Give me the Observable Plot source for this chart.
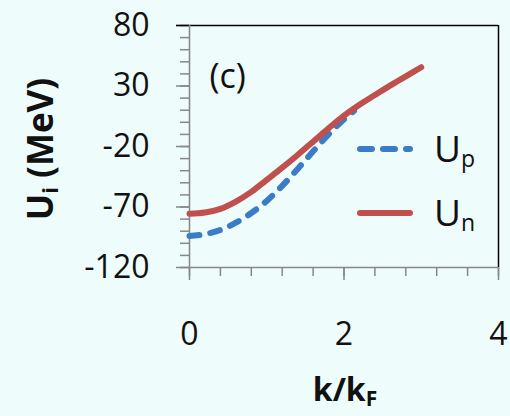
<!DOCTYPE html>
<html>
<head>
<meta charset="utf-8">
<script src="https://cdn.jsdelivr.net/npm/d3@7"></script>
<script src="https://cdn.jsdelivr.net/npm/@observablehq/plot@0.6"></script>
<style>
  html, body { margin: 0; padding: 0; background: #eefcfc; }
  #chart { width: 510px; height: 416px; }
  svg { display: block; }
</style>
</head>
<body>
<div id="chart"></div>
<script>
// Momentum dependence of the single-particle potentials, k in units of k_F
const kProton = [0, 0.2, 0.4, 0.6, 0.8, 1.0, 1.2, 1.4, 1.6, 1.8, 2.0, 2.13];
const uProton = [-94, -92.5, -89, -83, -75, -65, -52.5, -38.5, -24, -10, 2.5, 9.5];

const kNeutron = [0, 0.2, 0.4, 0.6, 0.8, 1.0, 1.2, 1.4, 1.6, 1.8, 2.0, 2.2, 2.4, 2.6, 2.8, 3.0];
const uNeutron = [-75.5, -74.5, -71.5, -65.5, -57.5, -47.5, -37.5, -27, -16, -5, 5.5, 14.5, 22.5, 30.5, 38, 45.5];

const yMajorTicks = [-120, -70, -20, 30, 80];
const yMinorTicks = d3.range(-120, 81, 10);
const xTicks = d3.range(0, 4.01, 0.4).map(v => +v.toFixed(1));
const xLabelTicks = [0, 2, 4];
const xDomain = [0, 4];
const yDomain = [-120, 80];

const seriesNames = ["U_p", "U_n"];
const panelTag = "(c)";
const xTitle = "k/k_F";
const yTitle = "U_i (MeV)";

const protonRows = kProton.map((k, i) => ({k, u: uProton[i]}));
const neutronRows = kNeutron.map((k, i) => ({k, u: uNeutron[i]}));

const blue = "#3c7cc6";
const red = "#c0504d";
const axisGray = "#878787";
const font = "Open Sans";
const plainNumber = d => `${d}`;

const chart = Plot.plot({
  width: 510,
  height: 416,
  marginLeft: 189,
  marginRight: 12,
  marginTop: 25,
  marginBottom: 149,
  style: {background: "transparent", fontFamily: font, color: "#111"},
  x: {domain: xDomain},
  y: {domain: yDomain},
  marks: [
    // plot-area border: black on top and right, grey axis lines on left and bottom
    Plot.ruleY([yDomain[1]], {stroke: "black", strokeWidth: 1.5}),
    Plot.ruleX([xDomain[1]], {stroke: "black", strokeWidth: 1.5}),
    Plot.axisY({ticks: yMinorTicks, tickSize: 9, tickFormat: () => "", stroke: axisGray, strokeWidth: 1.5, label: null}),
    Plot.axisY({ticks: yMajorTicks, tickSize: 13, tickPadding: 27, tickFormat: plainNumber, fontSize: 32, stroke: axisGray, strokeWidth: 1.5, label: null, fill: "#111"}),
    Plot.axisY({ticks: [yDomain[1]], tickSize: 13, tickFormat: () => "", stroke: "black", strokeWidth: 1.5, label: null}),
    Plot.axisX({ticks: xTicks, tickSize: 9, tickFormat: () => "", stroke: axisGray, strokeWidth: 1.5, label: null}),
    Plot.axisX({ticks: xLabelTicks, tickSize: 13, tickPadding: 42, tickFormat: plainNumber, fontSize: 32, stroke: axisGray, strokeWidth: 1.5, label: null, fill: "#111"}),
    Plot.ruleX([xDomain[0]], {stroke: axisGray, strokeWidth: 1.5}),
    Plot.ruleY([yDomain[0]], {stroke: axisGray, strokeWidth: 1.5}),
    Plot.line(protonRows, {x: "k", y: "u", stroke: blue, strokeWidth: 6, strokeDasharray: "10,11", strokeLinecap: "round", curve: "catmull-rom"}),
    Plot.line(neutronRows, {x: "k", y: "u", stroke: red, strokeWidth: 6, strokeLinecap: "round", curve: "catmull-rom"}),
    Plot.text([panelTag], {frameAnchor: "top-left", dx: 20, dy: 38, fontSize: 34, textAnchor: "start", fill: "#111"})
  ]
});

document.getElementById("chart").appendChild(chart);

// Text with a subscript: "base_sub rest"
function subText(sel, str, subSize, shift) {
  const m = str.match(/^([^_]*)_(\S)(.*)$/);
  if (!m) { sel.text(str); return sel; }
  sel.append("tspan").text(m[1]);
  sel.append("tspan").attr("font-size", subSize).attr("dy", shift).text(m[2]);
  if (m[3]) sel.append("tspan").attr("dy", -shift).text(m[3]);
  return sel;
}

const svg = d3.select(chart);

// legend inside the plot area
const legend = svg.append("g").attr("font-family", font).attr("fill", "#111").attr("text-anchor", "start");
const legendItems = [
  {name: seriesNames[0], color: blue, dash: "12,11", y: 149},
  {name: seriesNames[1], color: red, dash: null, y: 213}
];
legendItems.forEach(it => {
  legend.append("line")
    .attr("x1", 360).attr("x2", 410)
    .attr("y1", it.y).attr("y2", it.y)
    .attr("stroke", it.color).attr("stroke-width", 6)
    .attr("stroke-linecap", "round")
    .attr("stroke-dasharray", it.dash);
  subText(legend.append("text").attr("x", 434).attr("y", it.y + 13).attr("font-size", 37), it.name, 23, 5);
});

// axis titles
subText(svg.append("text")
  .attr("font-family", font).attr("font-weight", "bold").attr("font-size", 35)
  .attr("text-anchor", "middle").attr("fill", "#111")
  .attr("transform", "translate(53,149) rotate(-90)"), yTitle, 22, 5);

subText(svg.append("text")
  .attr("font-family", font).attr("font-weight", "bold").attr("font-size", 32)
  .attr("text-anchor", "middle").attr("fill", "#111")
  .attr("x", 345).attr("y", 401), xTitle, 21, 5);
</script>
</body>
</html>
